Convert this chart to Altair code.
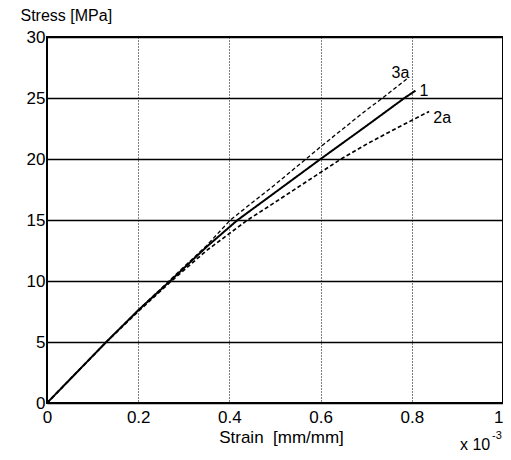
import altair as alt
import pandas as pd

# Curve 1 (solid)
s1_strain = [0, 0.13, 0.2, 0.27, 0.35, 0.418, 0.5, 0.6, 0.7, 0.784, 0.808]
s1_stress = [0, 5.0, 7.6, 10.0, 12.8, 15.0, 17.25, 20.0, 22.7, 25.0, 25.6]
# Curve 2a (dashed)
s2_strain = [0, 0.13, 0.2, 0.27, 0.35, 0.44, 0.5, 0.6, 0.645, 0.7, 0.75, 0.838]
s2_stress = [0, 5.0, 7.5, 9.9, 12.5, 15.0, 16.45, 18.9, 20.0, 21.2, 22.2, 23.9]
# Curve 3a (dashed)
s3_strain = [0, 0.13, 0.2, 0.27, 0.35, 0.402, 0.5, 0.568, 0.6, 0.7, 0.736, 0.79]
s3_stress = [0, 5.0, 7.6, 10.1, 12.9, 15.0, 17.9, 20.0, 21.0, 24.0, 25.0, 26.6]

label_text = ["3a", "1", "2a"]
label_strain = [0.775, 0.817, 0.847]
label_stress = [27.05, 25.6, 23.4]
label_align = ["center", "left", "left"]

x_ticks = [0, 0.2, 0.4, 0.6, 0.8, 1]
y_ticks = [0, 5, 10, 15, 20, 25, 30]

rows = []
for name, xs, ys in [("1", s1_strain, s1_stress), ("2a", s2_strain, s2_stress), ("3a", s3_strain, s3_stress)]:
    for i, (a, b) in enumerate(zip(xs, ys)):
        rows.append({"series": name, "strain": a, "stress": b, "order": i})
df = pd.DataFrame(rows)
lab = pd.DataFrame({"text": label_text, "strain": label_strain, "stress": label_stress, "align": label_align})

FONT = "Liberation Sans"

xscale = alt.Scale(domain=[0, 1], nice=False)
yscale = alt.Scale(domain=[0, 30], nice=False)

lines = alt.Chart(df).mark_line(color="black").encode(
    x=alt.X("strain:Q", scale=xscale,
            axis=alt.Axis(values=x_ticks, format="~g", title="Strain\u00a0\u00a0[mm/mm]",
                          grid=True, gridDash=[1, 2], gridColor="black", gridWidth=1, gridOpacity=1,
                          ticks=False, domain=False, labelPadding=6,
                          labelAlign=alt.expr("datum.value == 1 ? 'right' : 'center'"),
                          titleY=39, titleBaseline="alphabetic", titleX=234, titleFontSize=17)),
    y=alt.Y("stress:Q", scale=yscale,
            axis=alt.Axis(values=y_ticks, title="Stress  [MPa]", titleAngle=0,
                          titleAlign="left", titleX=-27, titleY=-17, titleBaseline="alphabetic",
                          grid=True, gridColor="black", gridWidth=1.6, gridOpacity=1,
                          ticks=False, domain=False, labelPadding=2)),
    order="order:Q",
    detail="series:N",
    strokeDash=alt.StrokeDash("series:N", scale=alt.Scale(domain=["1", "2a", "3a"], range=[[1, 0], [4, 2.5], [4, 2.5]]), legend=None),
    strokeWidth=alt.StrokeWidth("series:N", scale=alt.Scale(domain=["1", "2a", "3a"], range=[2, 1.3, 1.3]), legend=None),
)

labels_left = alt.Chart(lab).transform_filter(alt.datum.align == "left").mark_text(
    align="left", baseline="middle", font=FONT, fontSize=16, color="black"
).encode(x=alt.X("strain:Q", scale=xscale), y=alt.Y("stress:Q", scale=yscale), text="text:N")

labels_center = alt.Chart(lab).transform_filter(alt.datum.align == "center").mark_text(
    align="center", baseline="middle", font=FONT, fontSize=16, color="black"
).encode(x=alt.X("strain:Q", scale=xscale), y=alt.Y("stress:Q", scale=yscale), text="text:N")

mult = alt.Chart(pd.DataFrame({"t": ["x 10"]})).mark_text(
    align="left", baseline="alphabetic", font=FONT, fontSize=16, color="black"
).encode(x=alt.value(413), y=alt.value(413), text="t:N")

exp = alt.Chart(pd.DataFrame({"t": ["-3"]})).mark_text(
    align="left", baseline="alphabetic", font=FONT, fontSize=11, color="black"
).encode(x=alt.value(445), y=alt.value(402), text="t:N")

chart = alt.layer(lines, labels_left, labels_center, mult, exp).properties(
    width=456, height=366,
    autosize=alt.AutoSizeParams(type="none"),
    padding={"left": 39, "top": 29, "right": 0, "bottom": 49},
    background="white",
).configure_view(stroke="black", strokeWidth=2).configure_axis(
    labelFont=FONT, labelFontSize=17, labelColor="black",
    titleFont=FONT, titleFontSize=16, titleFontWeight="normal", titleColor="black",
)

chart.save("out.html", embed_options={"renderer": "svg", "actions": False})
